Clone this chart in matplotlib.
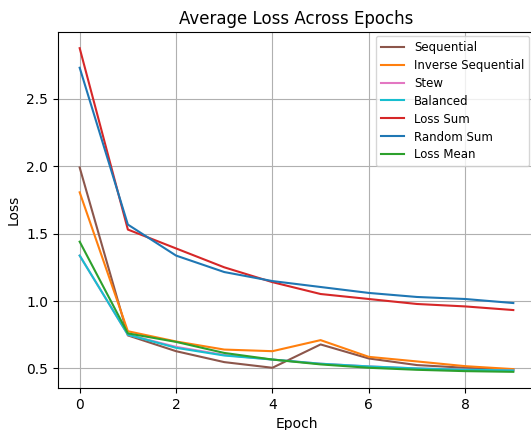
import matplotlib
matplotlib.use("Agg")
import matplotlib.pyplot as plt

epochs = list(range(10))

sequential = [1.99, 0.745, 0.628, 0.547, 0.505, 0.678, 0.574, 0.525, 0.505, 0.49]
inverse_sequential = [1.806, 0.776, 0.70, 0.64, 0.628, 0.71, 0.586, 0.552, 0.517, 0.495]
stew = [1.337, 0.75, 0.66, 0.60, 0.566, 0.535, 0.515, 0.50, 0.49, 0.485]
balanced = [1.337, 0.75, 0.653, 0.596, 0.566, 0.535, 0.515, 0.50, 0.49, 0.485]
loss_sum = [2.875, 1.53, 1.39, 1.25, 1.14, 1.052, 1.015, 0.978, 0.96, 0.933]
random_sum = [2.73, 1.567, 1.337, 1.215, 1.148, 1.104, 1.06, 1.03, 1.015, 0.985]
loss_mean = [1.44, 0.76, 0.697, 0.615, 0.566, 0.53, 0.505, 0.49, 0.48, 0.475]

series = [
    ("Sequential", sequential, "tab:brown"),
    ("Inverse Sequential", inverse_sequential, "tab:orange"),
    ("Stew", stew, "tab:pink"),
    ("Balanced", balanced, "tab:cyan"),
    ("Loss Sum", loss_sum, "tab:red"),
    ("Random Sum", random_sum, "tab:blue"),
    ("Loss Mean", loss_mean, "tab:green"),
]

fig = plt.figure(figsize=(5.31, 4.30), dpi=100)
ax = fig.add_axes([58 / 531, 42 / 430, 477 / 531, 356 / 430])

for label, values, color in series:
    ax.plot(epochs, values, color=color, label=label, linewidth=1.5)

ax.grid(True)
ax.set_title("Average Loss Across Epochs", fontsize=12)
ax.set_xlabel("Epoch")
ax.set_ylabel("Loss")

ax.legend(loc="upper right", bbox_to_anchor=(529 / 531, 1 - 36 / 430),
          bbox_transform=fig.transFigure, fontsize=8.5, labelspacing=0.42,
          borderaxespad=0)

fig.savefig("out.png", dpi=100)
